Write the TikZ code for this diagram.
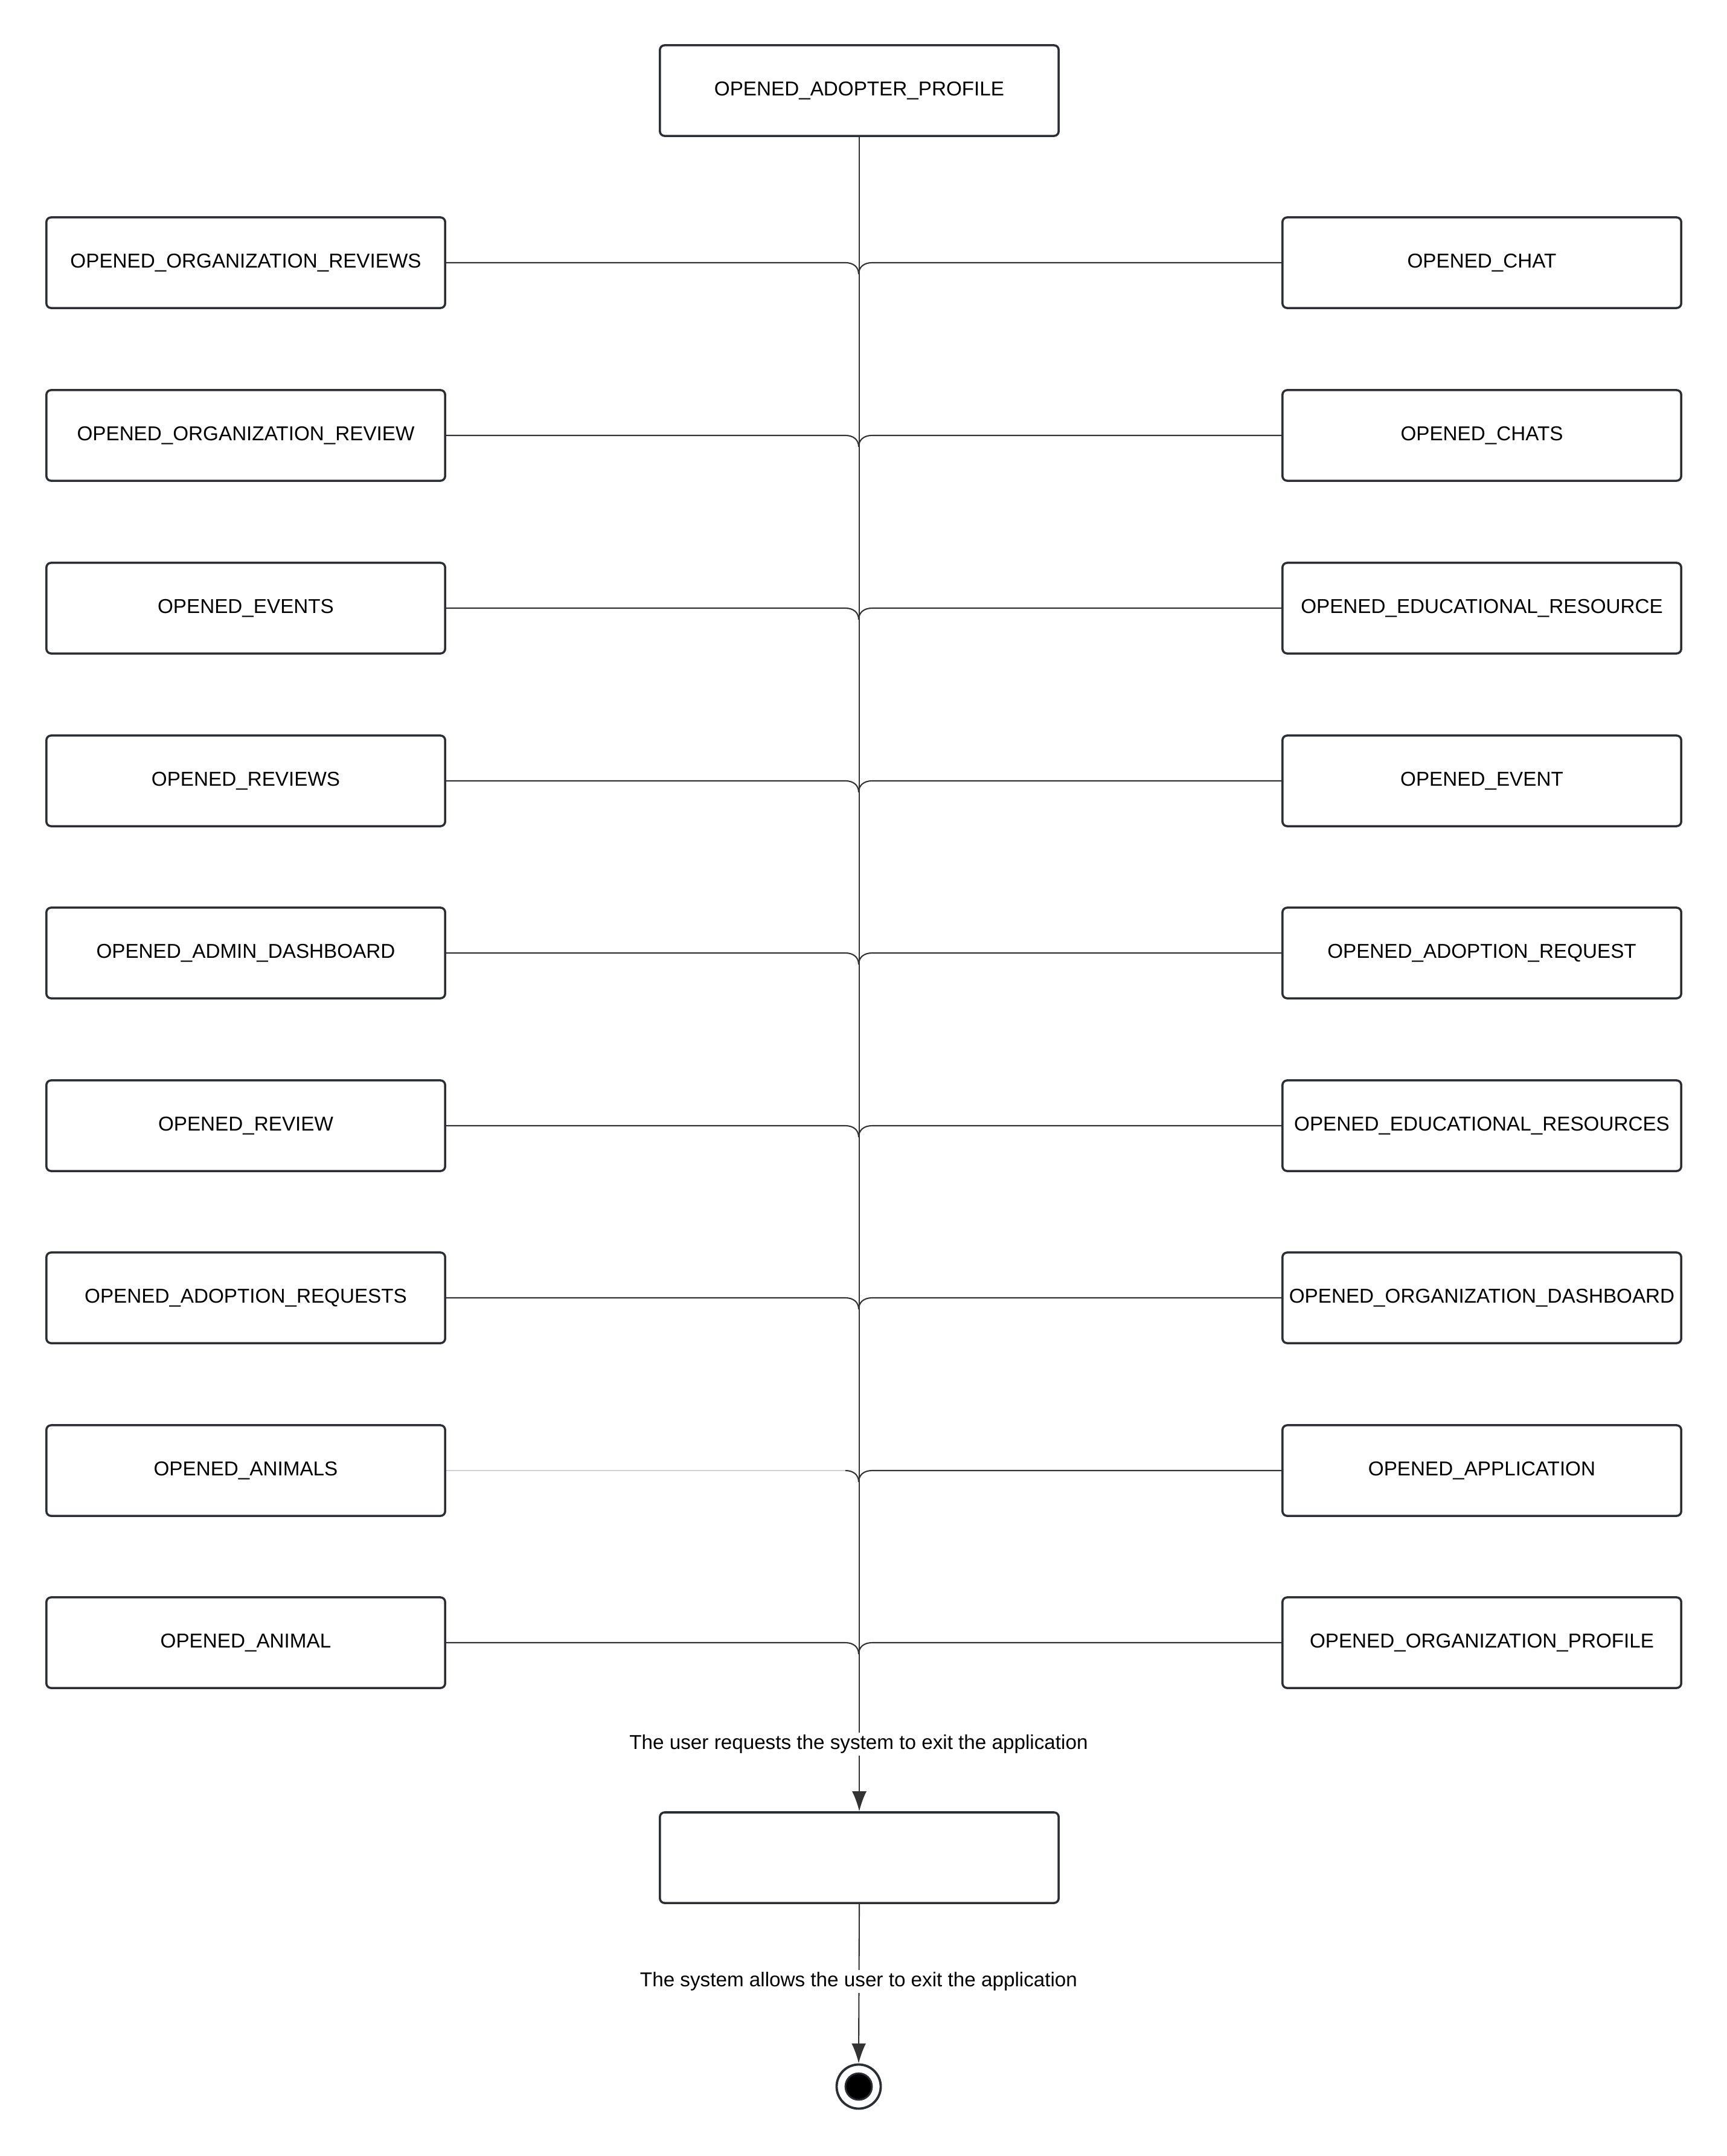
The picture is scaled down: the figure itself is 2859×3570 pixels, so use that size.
\documentclass[tikz,border=0pt]{standalone}
\usepackage{fontspec}
\setmainfont{Liberation Sans}
\usetikzlibrary{arrows.meta}
\definecolor{edge}{HTML}{2B2E33}
\definecolor{wire}{HTML}{333333}
\begin{document}
\begin{tikzpicture}[x=0.01cm,y=-0.01cm,
  state/.style={draw=edge,line width=1pt,rounded corners=2.2pt,fill=white,
    minimum width=6.6cm,minimum height=1.5cm,inner sep=0pt,
    font=\fontsize{9.45}{11}\selectfont},
  wire/.style={draw=wire,line width=0.6pt},
  faint/.style={draw=black!18,line width=0.6pt},
  note/.style={fill=white,inner sep=1pt,font=\fontsize{9.45}{11}\selectfont},
  tip/.style={-{Latex[length=3.3mm,width=2.4mm]}}
]
\useasboundingbox (0,0) rectangle (2859,3570);

% initial state
\node[state] (top) at (1423,150) {OPENED\_ADOPTER\_PROFILE};

% left column
\node[state] (L1) at (407,435)  {OPENED\_ORGANIZATION\_REVIEWS};
\node[state] (L2) at (407,721)  {OPENED\_ORGANIZATION\_REVIEW};
\node[state] (L3) at (407,1007) {OPENED\_EVENTS};
\node[state] (L4) at (407,1293) {OPENED\_REVIEWS};
\node[state] (L5) at (407,1578) {OPENED\_ADMIN\_DASHBOARD};
\node[state] (L6) at (407,1864) {OPENED\_REVIEW};
\node[state] (L7) at (407,2149) {OPENED\_ADOPTION\_REQUESTS};
\node[state] (L8) at (407,2435) {OPENED\_ANIMALS};
\node[state] (L9) at (407,2720) {OPENED\_ANIMAL};

% right column
\node[state] (R1) at (2454,435)  {OPENED\_CHAT};
\node[state] (R2) at (2454,721)  {OPENED\_CHATS};
\node[state] (R3) at (2454,1007) {OPENED\_EDUCATIONAL\_RESOURCE};
\node[state] (R4) at (2454,1293) {OPENED\_EVENT};
\node[state] (R5) at (2454,1578) {OPENED\_ADOPTION\_REQUEST};
\node[state] (R6) at (2454,1864) {OPENED\_EDUCATIONAL\_RESOURCES};
\node[state] (R7) at (2454,2149) {OPENED\_ORGANIZATION\_DASHBOARD};
\node[state] (R8) at (2454,2435) {OPENED\_APPLICATION};
\node[state] (R9) at (2454,2720) {OPENED\_ORGANIZATION\_PROFILE};

% exit state and final state
\node[state] (exit) at (1423,3076) {};
\node[circle,draw=edge,line width=1.1pt,minimum size=0.73cm,inner sep=0pt] (end) at (1422,3455) {};
\node[circle,fill=black,draw=edge,line width=0.8pt,minimum size=0.44cm,inner sep=0pt] (endcore) at (end) {};

% junctions on the spine
\foreach \i/\y in {1/435,2/721,3/1007,4/1293,5/1578,6/1864,7/2149,8/2435,9/2720}
  \coordinate (j\i) at (1422,\y);

% spine
\draw[wire,tip] (top.south) -- (exit.north);
\draw[wire,tip] (exit.south) -- (end.north);

% side states merging into the spine
\foreach \i in {1,...,9}{
  \ifnum\i=8
    \draw[faint] (L\i.east) -- ([xshift=-0.22cm]j\i);
    \draw[wire] ([xshift=-0.22cm]j\i) .. controls ([xshift=-0.09cm]j\i) and ([yshift=-0.07cm]j\i) .. ([yshift=-0.19cm]j\i);
  \else
    \draw[wire] (L\i.east) -- ([xshift=-0.22cm]j\i) .. controls ([xshift=-0.09cm]j\i) and ([yshift=-0.07cm]j\i) .. ([yshift=-0.19cm]j\i);
  \fi
  \draw[wire] (R\i.west) -- ([xshift=0.22cm]j\i) .. controls ([xshift=0.09cm]j\i) and ([yshift=-0.07cm]j\i) .. ([yshift=-0.19cm]j\i);
}

% transition labels
\node[note] (ask) at (1422,2888) {The user requests the system to exit the application};
\node[note] (allow) at (1422,3281) {The system allows the user to exit the application};
\end{tikzpicture}
\end{document}
